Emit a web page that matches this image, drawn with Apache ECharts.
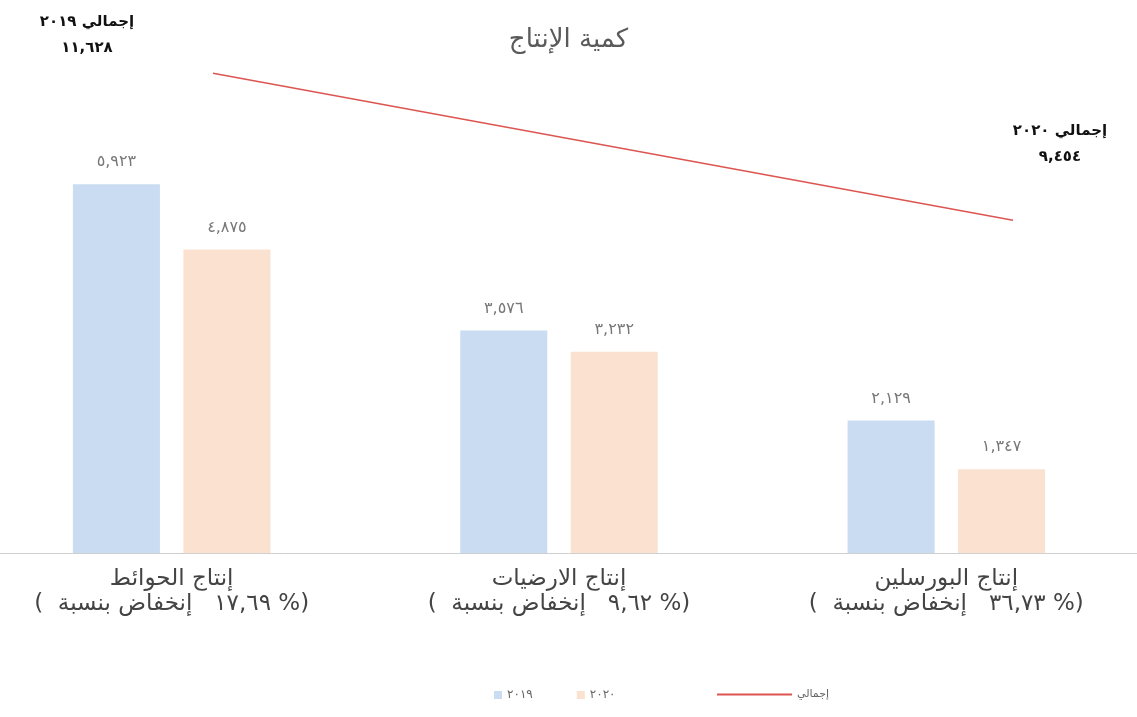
<!DOCTYPE html>
<html>
<head>
<meta charset="utf-8">
<script src="https://cdn.jsdelivr.net/npm/echarts@6/dist/echarts.min.js"></script>
<style>
  html, body { margin: 0; padding: 0; background: #ffffff; }
  #chart { width: 1137px; height: 717px; }
</style>
</head>
<body>
<div id="chart"></div>
<script>
// ---- data ----
const categories = ['إنتاج الحوائط', 'إنتاج الارضيات', 'إنتاج البورسلين'];
const declinePct = [17.69, 9.62, 36.73];
const years = ['2019', '2020'];
const values2019 = [5923, 3576, 2129];
const values2020 = [4875, 3232, 1347];
const totals = [11628, 9454];
const totalName = 'إجمالي';
const titleText = 'كمية الإنتاج';

// ---- helpers ----
const AR_DIGITS = '٠١٢٣٤٥٦٧٨٩';
function toAr(v) {
  let s = (typeof v === 'number') ? v.toLocaleString('en-US', {maximumFractionDigits: 2}).replace('.', '#') : String(v);
  s = s.replace(/#/g, ',');
  return s.replace(/[0-9]/g, d => AR_DIGITS[+d]);
}
const LRM = '\u200E';
const catLabels = categories.map((c, i) => c + '\n(  إنخفاض بنسبة   ' + LRM + toAr(declinePct[i]) + ' %)');
const yearNames = years.map(toAr);

const chart = echarts.init(document.getElementById('chart'), null, {renderer: 'canvas'});
const AR_FONT = "'DejaVu Sans', 'Noto Sans', sans-serif";

const option = {
  backgroundColor: '#ffffff',
  animation: false,
  textStyle: { fontFamily: AR_FONT },
  title: {
    text: titleText,
    left: 'center',
    top: 22,
    textStyle: { fontSize: 26, fontWeight: 'normal', color: '#5a5a5a', fontFamily: AR_FONT }
  },
  legend: [
    {
      data: yearNames,
      left: 489, top: 684,
      icon: 'rect', itemWidth: 8, itemHeight: 8, itemGap: 44,
      textStyle: { fontSize: 12, color: '#666666', fontFamily: AR_FONT }
    },
    {
      data: [{ name: totalName, icon: 'rect' }],
      left: 712, top: 684,
      itemWidth: 75, itemHeight: 2,
      textStyle: { fontSize: 11, color: '#666666', fontFamily: AR_FONT }
    }
  ],
  grid: [
    { left: -22, right: -3, top: 55, bottom: 164, outerBoundsMode: 'none', containLabel: false },
    { left: 213, right: 124, top: 48, bottom: 466, outerBoundsMode: 'none', containLabel: false }
  ],
  xAxis: [
    {
      type: 'category', gridIndex: 0, data: catLabels,
      axisTick: { show: false },
      axisLine: { lineStyle: { color: '#cfcfcf', width: 1 } },
      axisLabel: { fontSize: 23, color: '#444444', lineHeight: 25, margin: 14, fontFamily: AR_FONT, interval: 0, hideOverlap: false }
    },
    {
      type: 'category', gridIndex: 1, data: yearNames, boundaryGap: false, show: false
    }
  ],
  yAxis: [
    { type: 'value', gridIndex: 0, min: 0, max: 8000, show: false, splitLine: { show: false } },
    { type: 'value', gridIndex: 1, min: 9000, max: 12000, show: false, splitLine: { show: false } }
  ],
  series: [
    {
      name: yearNames[0], type: 'bar', xAxisIndex: 0, yAxisIndex: 0,
      data: values2019, barWidth: 87, barGap: '27%',
      itemStyle: { color: '#cadcf2' },
      label: { show: true, position: 'top', distance: 14, fontSize: 16, color: '#777777',
               formatter: p => toAr(p.value) }
    },
    {
      name: yearNames[1], type: 'bar', xAxisIndex: 0, yAxisIndex: 0,
      data: values2020, barWidth: 87, barGap: '27%',
      itemStyle: { color: '#fbe1d0' },
      label: { show: true, position: 'top', distance: 14, fontSize: 16, color: '#777777',
               formatter: p => toAr(p.value) }
    },
    {
      name: totalName, type: 'line', xAxisIndex: 1, yAxisIndex: 1,
      symbol: 'circle', symbolSize: 0.01, showSymbol: true,
      lineStyle: { color: '#dc5550', width: 1.5 },
      itemStyle: { color: '#dc5550' },
      data: totals.map((v, i) => ({
        value: v,
        label: {
          show: true, position: 'inside',
          offset: i === 0 ? [-126, -38] : [47, -76],
          formatter: () => totalName + ' ' + yearNames[i] + '\n' + toAr(v),
          fontSize: 15, fontWeight: 'bold', color: '#111111', lineHeight: 26,
          align: 'center', fontFamily: AR_FONT
        }
      }))
    }
  ]
};
chart.setOption(option);
</script>
</body>
</html>
